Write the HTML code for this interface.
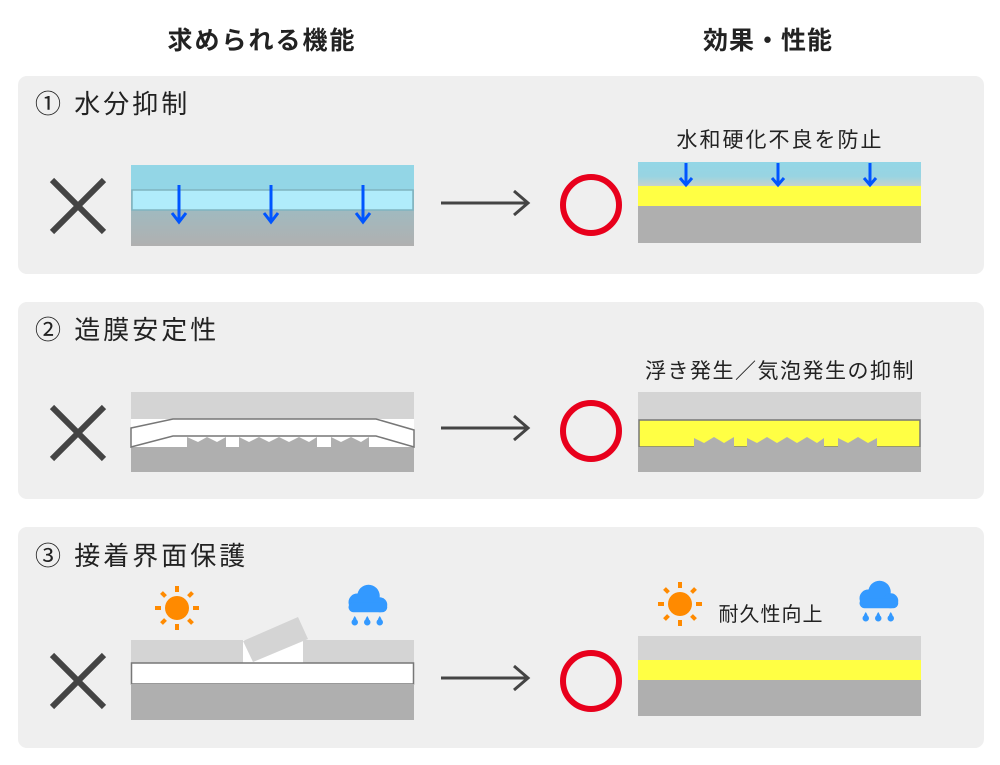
<!DOCTYPE html>
<html><head><meta charset="utf-8"><style>
html,body{margin:0;padding:0;background:#fff}
svg{display:block}
text{font-family:"Liberation Sans","Noto Sans CJK JP",sans-serif;fill:#222}
</style></head><body>
<svg width="1000" height="765" viewBox="0 0 1000 765" xmlns="http://www.w3.org/2000/svg">
<defs>
<linearGradient id="g1" x1="0" y1="0" x2="0" y2="1">
<stop offset="0" stop-color="#8cc6d4"/><stop offset="1" stop-color="#b0b0b0"/></linearGradient>
<linearGradient id="g2" x1="0" y1="0" x2="0" y2="1">
<stop offset="0" stop-color="#93d6e6"/><stop offset="0.6" stop-color="#98d4e2"/><stop offset="1" stop-color="#c6d2cc"/></linearGradient>
<g id="xm"><path d="M52 180 L104 232 M104 180 L52 232" stroke="#444" stroke-width="6"/></g>
<g id="arr"><path d="M441 0 H528 M514 -12 L528 0 L514 12" stroke="#444" stroke-width="3" fill="none"/></g>
<g id="sun" fill="#ff8a00"><circle r="12"/>
<g stroke="#ff8a00" stroke-width="4"><path d="M0 -22 V-16 M0 16 V22 M-22 0 H-16 M16 0 H22 M-15.5 -15.5 L-11.5 -11.5 M11.5 11.5 L15.5 15.5 M15.5 -15.5 L11.5 -11.5 M-11.5 11.5 L-15.5 15.5"/></g></g>
<g id="cloud" fill="#3399ff" transform="scale(1.25)"><circle cx="-7" cy="-3" r="7"/><circle cx="2" cy="-8" r="9"/><circle cx="11" cy="-1" r="6"/><rect x="-14" y="-3" width="31" height="8" rx="4"/>
<path d="M-9 8 q-3 4 0 6 q3 -2 0 -6z M1 8 q-3 4 0 6 q3 -2 0 -6z M11 8 q-3 4 0 6 q3 -2 0 -6z"/>
<circle cx="-9" cy="13" r="2.6"/><circle cx="1" cy="13" r="2.6"/><circle cx="11" cy="13" r="2.6"/></g>
<g id="bl"><path d="M0 0 V36" stroke="#0055ff" stroke-width="3"/><path d="M-7 28 L0 37 L7 28" stroke="#0055ff" stroke-width="3" fill="none"/></g>
<g id="bs"><path d="M0 0 V21" stroke="#0055ff" stroke-width="3"/><path d="M-6 15 L0 22 L6 15" stroke="#0055ff" stroke-width="3" fill="none"/></g>
</defs>

<text x="262" y="49" font-size="25" font-weight="bold" text-anchor="middle" letter-spacing="2">求められる機能</text>
<text x="768" y="49" font-size="25" font-weight="bold" text-anchor="middle" letter-spacing="1">効果・性能</text>

<rect x="18" y="76" width="966" height="198" rx="9" fill="#efefef"/>
<rect x="18" y="302" width="966" height="197" rx="9" fill="#efefef"/>
<rect x="18" y="527" width="966" height="221" rx="9" fill="#efefef"/>

<!-- panel 1 -->
<text x="35" y="113" font-size="26" letter-spacing="3">① 水分抑制</text>
<use href="#xm" y="0"/>
<rect x="131" y="165" width="283" height="81" fill="url(#g1)"/>
<rect x="131" y="165" width="283" height="25" fill="#93d6e6"/>
<rect x="132" y="190" width="281" height="20" fill="#b0ecfb" stroke="#7fb3bf" stroke-width="1.5"/>
<use href="#bl" x="179" y="185"/><use href="#bl" x="271" y="185"/><use href="#bl" x="363" y="185"/>
<use href="#arr" y="203"/>
<circle cx="591" cy="205" r="28" fill="none" stroke="#e8001c" stroke-width="6"/>
<text x="780" y="147" font-size="21" text-anchor="middle" letter-spacing="2">水和硬化不良を防止</text>
<rect x="638" y="162" width="283" height="24" fill="url(#g2)"/>
<rect x="638" y="186" width="283" height="20" fill="#ffff44"/>
<rect x="638" y="206" width="283" height="37" fill="#afafaf"/>
<use href="#bs" x="686" y="163"/><use href="#bs" x="778" y="163"/><use href="#bs" x="870" y="163"/>

<!-- panel 2 -->
<text x="35" y="339" font-size="26" letter-spacing="3">② 造膜安定性</text>
<use href="#xm" y="227"/>
<rect x="131" y="392" width="283" height="27" fill="#d4d4d4"/>
<rect x="131" y="419" width="283" height="28" fill="#fff"/>
<rect x="131" y="447" width="283" height="25" fill="#afafaf"/>
<path d="M187 447 V437 L198 442 L207 437 L217 442 L226 437 V447 Z M239 447 V437 L249 442 L259 437 L269 442 L279 437 L289 442 L299 437 L309 442 L317 437 V447 Z M331 447 V437 L341 442 L351 437 L361 442 L369 437 V447 Z" fill="#afafaf"/>
<path d="M131 428 L173 419 L376 419 L414 430 L414 447 L376 436 L173 436 L131 447 Z" fill="#fff" stroke="#777" stroke-width="1.5"/>
<use href="#arr" y="428"/>
<circle cx="591" cy="431" r="28" fill="none" stroke="#e8001c" stroke-width="6"/>
<text x="780" y="378" font-size="21" text-anchor="middle" letter-spacing="1.5">浮き発生／気泡発生の抑制</text>
<rect x="638" y="392" width="283" height="28" fill="#d4d4d4"/>
<rect x="639" y="420" width="281" height="27" fill="#ffff44" stroke="#777" stroke-width="1.5"/>
<rect x="638" y="447" width="283" height="25" fill="#afafaf"/>
<path d="M694 447 V438 L704 443 L714 437 L724 443 L734 437 V447 Z M747 447 V438 L757 443 L767 437 L777 443 L787 437 L797 443 L807 437 L817 443 L824 438 V447 Z M838 447 V438 L848 443 L858 437 L868 443 L877 438 V447 Z" fill="#afafaf"/>

<!-- panel 3 -->
<text x="35" y="565" font-size="26" letter-spacing="3">③ 接着界面保護</text>
<use href="#xm" y="475"/>
<use href="#sun" x="177" y="608"/>
<use href="#cloud" x="366" y="606"/>
<rect x="131" y="640" width="112" height="23" fill="#d4d4d4"/>
<rect x="303" y="640" width="111" height="23" fill="#d4d4d4"/>
<rect x="243" y="640" width="60" height="23" fill="#fff"/>
<polygon points="243,641 298,617 308,639 253,662" fill="#d4d4d4"/>
<rect x="131.5" y="663" width="282" height="21" fill="#fff" stroke="#777" stroke-width="1.5"/>
<rect x="131" y="684" width="283" height="36" fill="#afafaf"/>
<use href="#arr" y="678"/>
<circle cx="591" cy="681" r="28" fill="none" stroke="#e8001c" stroke-width="6"/>
<use href="#sun" x="680" y="604"/>
<use href="#cloud" x="877" y="602"/>
<text x="771" y="621" font-size="20" text-anchor="middle" letter-spacing="1">耐久性向上</text>
<rect x="638" y="636" width="283" height="24" fill="#d4d4d4"/>
<rect x="638" y="660" width="283" height="20" fill="#ffff44"/>
<rect x="638" y="680" width="283" height="36" fill="#afafaf"/>
</svg>
</body></html>
